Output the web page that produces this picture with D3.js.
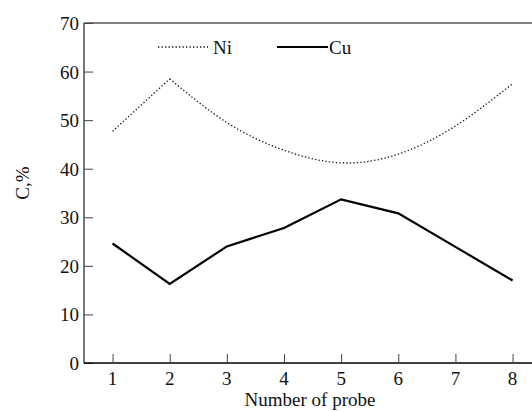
<!DOCTYPE html>
<html>
<head>
<meta charset="utf-8">
<script src="https://cdn.jsdelivr.net/npm/d3@7"></script>
<style>
  body { margin: 0; background: #fff; }
  svg text { font-family: "Liberation Serif", "DejaVu Serif", serif; fill: #111; }
</style>
</head>
<body>
<svg id="chart" width="532" height="412"></svg>
<script>
// data
const probes = [1, 2, 3, 4, 5, 6, 7, 8];
const niValues = [47.7, 58.5, 49.5, 43.8, 41.2, 43.0, 48.8, 57.5];
const cuValues = [24.6, 16.3, 24.0, 27.8, 33.7, 30.8, 23.9, 17.0];
const xTicks = [1, 2, 3, 4, 5, 6, 7, 8];
const yTicks = [0, 10, 20, 30, 40, 50, 60, 70];

const margin = { top: 23, right: 0, bottom: 49, left: 84 };
const svg = d3.select("#chart");
const width = 532 - margin.left - margin.right;
const height = 412 - margin.top - margin.bottom;
const fs = 19;

const g = svg.append("g").attr("transform", `translate(${margin.left},${margin.top})`);

const x = d3.scaleLinear().domain([0.5, 8.34]).range([0, width]);
const y = d3.scaleLinear().domain([0, 70]).range([height, 0]);

// frame: left axis gray, top line, bottom black
g.append("line").attr("x1", 0).attr("x2", 0).attr("y1", 0).attr("y2", height)
  .attr("stroke", "#777").attr("stroke-width", 2);
g.append("line").attr("x1", 0).attr("x2", width).attr("y1", 0).attr("y2", 0)
  .attr("stroke", "#555").attr("stroke-width", 1.5);

// y axis, ticks pointing inward
const yAxis = g.append("g").call(d3.axisRight(y).tickValues(yTicks).tickSize(9).tickFormat(""));
yAxis.select(".domain").remove();
yAxis.selectAll("line").attr("stroke", "#444");
g.selectAll(".ylab").data(yTicks).enter().append("text")
  .attr("x", -5).attr("y", d => y(d) + 7)
  .attr("text-anchor", "end").attr("font-size", fs).text(d => d);

// x axis, ticks pointing up
const xAxis = g.append("g").attr("transform", `translate(0,${height})`)
  .call(d3.axisTop(x).tickValues(xTicks).tickSize(9).tickFormat(""));
xAxis.select(".domain").attr("stroke", "#000").attr("stroke-width", 1.3).attr("d", `M0,0H${width}`);
xAxis.selectAll("line").attr("stroke", "#444");
g.selectAll(".xlab").data(xTicks).enter().append("text")
  .attr("x", d => x(d)).attr("y", height + 22)
  .attr("text-anchor", "middle").attr("font-size", fs).text(d => d);

// axis titles
svg.append("text").attr("x", 310).attr("y", 406).attr("text-anchor", "middle")
  .attr("font-size", fs).text("Number of probe");
svg.append("text").attr("transform", "translate(29,183) rotate(-90)")
  .attr("text-anchor", "middle").attr("font-size", fs).text("C,%");

// Ni: straight up to the peak, then smooth curve
const niPts = probes.map((p, i) => [x(p), y(niValues[i])]);
g.append("path").attr("d", d3.line()(niPts.slice(0, 2)))
  .attr("fill", "none").attr("stroke", "#111").attr("stroke-width", 1.3).attr("stroke-dasharray", "1.3,2.2");
g.append("path").attr("d", d3.line().curve(d3.curveNatural)(niPts.slice(1)))
  .attr("fill", "none").attr("stroke", "#111").attr("stroke-width", 1.3).attr("stroke-dasharray", "1.3,2.2");

// Cu: solid polyline
g.append("path").datum(probes)
  .attr("d", d3.line().x(d => x(d)).y((d, i) => y(cuValues[i])))
  .attr("fill", "none").attr("stroke", "#000").attr("stroke-width", 2.2);

// legend
const legend = svg.append("g");
legend.append("line").attr("x1", 158).attr("x2", 208).attr("y1", 47).attr("y2", 47)
  .attr("stroke", "#111").attr("stroke-width", 1.3).attr("stroke-dasharray", "1.3,2.2");
legend.append("text").attr("x", 213).attr("y", 54).attr("font-size", fs).text("Ni");
legend.append("line").attr("x1", 277).attr("x2", 328).attr("y1", 47).attr("y2", 47)
  .attr("stroke", "#000").attr("stroke-width", 2.2);
legend.append("text").attr("x", 329).attr("y", 54).attr("font-size", fs).text("Cu");
</script>
</body>
</html>
